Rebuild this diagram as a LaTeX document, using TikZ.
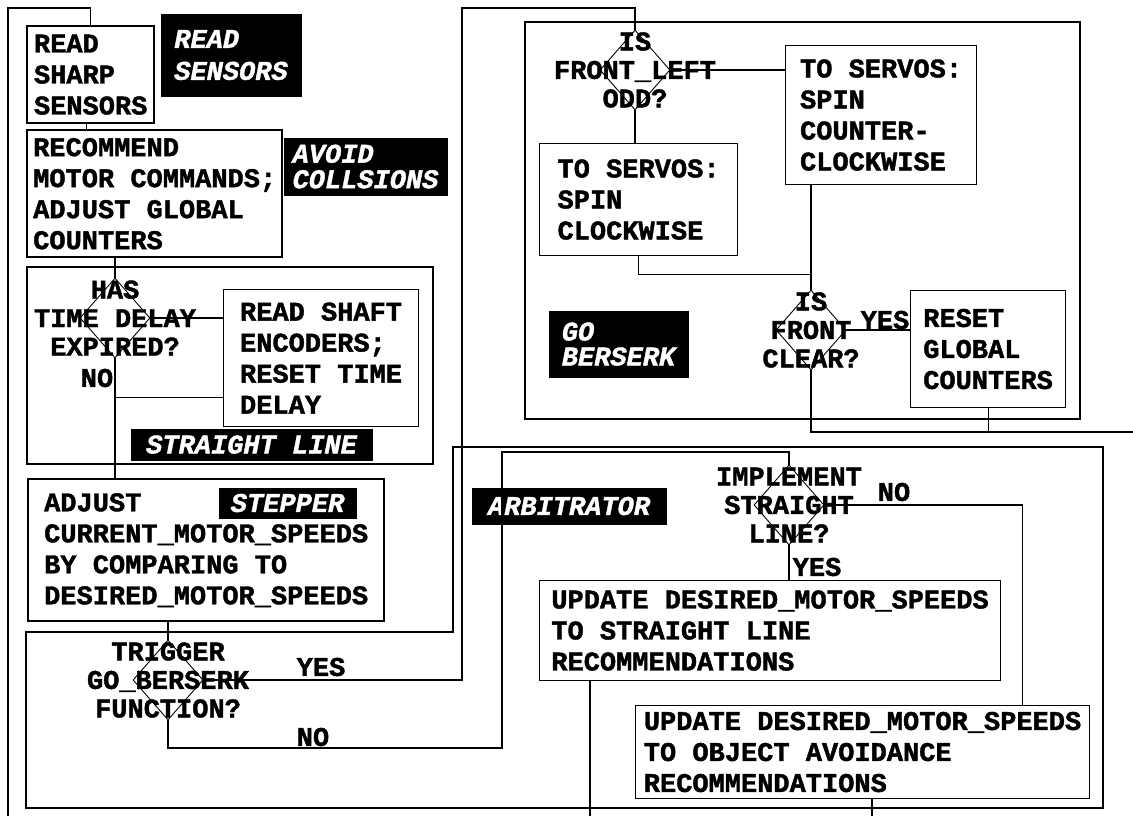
\documentclass[tikz,border=0pt]{standalone}
\usepackage{fontspec}
\usepackage{tikz}
\usetikzlibrary{positioning, shapes.geometric}
\newfontfamily\flowfont{Liberation Mono}[BoldFeatures={FakeBold=1.5}, BoldItalicFeatures={FakeBold=1.5}]
\newcommand{\boxfont}[1]{\flowfont\bfseries\fontsize{27}{#1}\selectfont}
\newcommand{\tagfont}[1]{\flowfont\bfseries\itshape\fontsize{27}{#1}\selectfont}

\begin{document}
\begin{tikzpicture}[
    x=1pt, y=-1pt,
    line width=1.1pt,
    wh/.style 2 args={minimum width=#1, minimum height=#2},
    box/.style={draw, line width=2.4pt, anchor=north west, align=left, inner sep=2pt, font=\boxfont{31}},
    inbox/.style={box, line width=1.1pt},
    tag/.style={fill=black, text=white, anchor=north west, align=left, inner sep=2pt, font=\tagfont{31}},
    dia/.style={draw, diamond, inner sep=0pt, minimum width=70pt, minimum height=80pt, line width=0.9pt},
    dtext/.style={align=center, inner sep=0pt, font=\boxfont{28.5}},
    note/.style={inner sep=0pt, font=\boxfont{31}},
    frame/.style={line width=2.6pt}
]
\fill[white] (0,0) rectangle (1133,816);

% read sensors / avoid collisions
\node[box, wh={127}{97}] (read) at (26,25) {READ\\SHARP\\SENSORS};
\node[tag, wh={141}{83}, font=\tagfont{32}] (tread) at (160,13) {READ\\SENSORS};
\node[box, wh={255}{127}] (rec) at (26,129) {RECOMMEND\\MOTOR COMMANDS;\\ADJUST GLOBAL\\COUNTERS};
\node[tag, wh={164}{58}, font=\tagfont{25.5}] (tavoid) at (283,137) {AVOID\\COLLSIONS};

% straight line
\draw[frame] (27,267) rectangle (433,464);
\node[dia] (has) at (115,318) {};
\node[dtext] (hastxt) at (has) {HAS\\TIME DELAY\\EXPIRED?};
\node[inbox, wh={195}{137}] (shaft) at (223,289) {READ SHAFT\\ENCODERS;\\RESET TIME\\DELAY};
\node[note] (hasno) at (97,378) {NO};
\node[tag, wh={242}{32}] (tline) at (130,428) {STRAIGHT LINE};

% stepper
\node[box, wh={356}{142}] (adjust) at (27,478) {ADJUST\\CURRENT\_MOTOR\_SPEEDS\\BY COMPARING TO\\DESIRED\_MOTOR\_SPEEDS};
\node[tag, wh={138}{31}] (tstep) at (218,487) {STEPPER};

% go berserk
\draw[frame] (525,22) rectangle (1080,419);
\node[dia] (fl) at (635,70) {};
\node[dtext] (fltxt) at (fl) {IS\\FRONT\_LEFT\\ODD?};
\node[inbox, wh={191}{139}] (ccw) at (785,45) {TO SERVOS:\\SPIN\\COUNTER-\\CLOCKWISE};
\node[inbox, wh={198}{112}] (cw) at (539,143) {TO SERVOS:\\SPIN\\CLOCKWISE};
\node[dia] (fc) at (811,330) {};
\node[dtext] (fctxt) at (fc) {IS\\FRONT\\CLEAR?};
\node[note] (fcyes) at (885,320) {YES};
\node[inbox, wh={155}{117}] (reset) at (910,290) {RESET\\GLOBAL\\COUNTERS};
\node[tag, wh={140}{67}, font=\tagfont{25}] (tbzk) at (548,310) {GO\\BERSERK};

% arbitrator
\draw[frame] (26,632) -- (453,632) -- (453,447) -- (1103,447) -- (1103,808) -- (26,808) -- cycle;
\node[dia] (trig) at (168,680) {};
\node[dtext] (trigtxt) at (trig) {TRIGGER\\GO\_BERSERK\\FUNCTION?};
\node[note] (trigyes) at (321,667) {YES};
\node[note] (trigno) at (313,737) {NO};
\node[tag, wh={195}{37}] (tarb) at (471,487) {ARBITRATOR};
\node[dia] (impl) at (789,505) {};
\node[dtext] (impltxt) at (impl) {IMPLEMENT\\STRAIGHT\\LINE?};
\node[note] (implno) at (894,492) {NO};
\node[note] (implyes) at (817,567) {YES};
\node[inbox, wh={461}{100}] (upd1) at (539,580) {UPDATE DESIRED\_MOTOR\_SPEEDS\\TO STRAIGHT LINE\\RECOMMENDATIONS};
\node[inbox, wh={454}{93}] (upd2) at (635,705) {UPDATE DESIRED\_MOTOR\_SPEEDS\\TO OBJECT AVOIDANCE\\RECOMMENDATIONS};

% loose ends
\coordinate (loopin) at (8,816);
\coordinate (looptop) at (8,8);
\coordinate (bzk) at (462,8);
\coordinate (arbA) at (502,748);
\coordinate (arbB) at (502,452);
\coordinate (outR) at (1133,432);
\coordinate (out1) at (590,816);
\coordinate (out2) at (872,816);

% connectors
\draw (loopin) -- (looptop) -| (read.north);
\draw ([xshift=-4.5pt]read.south) -- ([xshift=-4.5pt]read.south |- rec.north);
\draw (has.north |- rec.south) -- (has.north);
\draw (has.east) -- (has.east -| shaft.west);
\draw (has.south) -- (has.south |- adjust.north);
\draw ([yshift=30pt]shaft.south west) -- ([yshift=30pt]shaft.south west -| has.south);
\draw (trig.north |- adjust.south) -- (trig.north);
\draw (trig.east) -| (bzk) -| (fl.north);
\draw (trig.south) |- (arbA) -- (arbB) -| (impl.north);
\draw (fl.east) -- (fl.east -| ccw.west);
\draw (fl.south) -- (fl.south |- cw.north);
\draw (cw.south) |- ([yshift=15pt]fc.north);
\draw (fc.north |- ccw.south) -- (fc.north);
\draw (fc.east) -- (fc.east -| reset.west);
\draw (fc.south) |- (outR);
\draw (reset.south) -- (reset.south |- outR);
\draw (impl.east) -| ([xshift=-68pt]upd2.north east);
\draw (impl.south) -- (impl.south |- upd1.north);
\draw (upd1.south -| out1) -- (out1);
\draw (upd2.south -| out2) -- (out2);

\pgfresetboundingbox
\useasboundingbox (0,0) rectangle (1133,816);
\end{tikzpicture}
\end{document}
